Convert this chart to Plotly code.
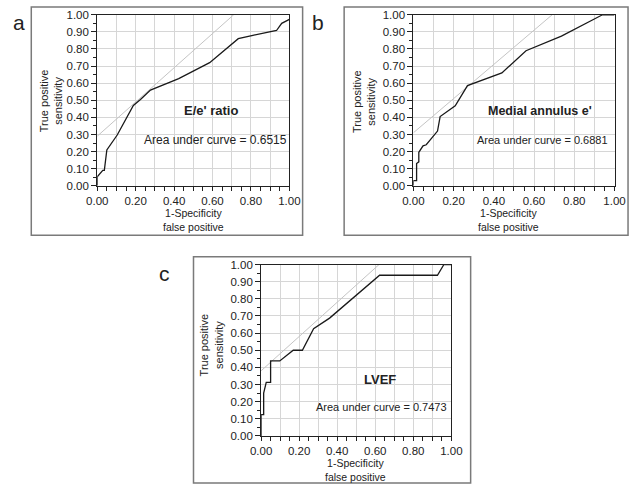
import plotly.graph_objects as go

W, H = 640, 492

# ---- data ----
a_fpr = [0.0, 0.0, 0.029, 0.037, 0.05, 0.06, 0.104, 0.188, 0.225, 0.277, 0.424, 0.585, 0.734, 0.81, 0.933, 0.96, 1.0]
a_tpr = [0.0, 0.053, 0.09, 0.09, 0.21, 0.225, 0.297, 0.47, 0.505, 0.56, 0.627, 0.72, 0.86, 0.88, 0.908, 0.95, 0.973]

b_fpr = [0.0, 0.0, 0.016, 0.016, 0.027, 0.027, 0.048, 0.064, 0.12, 0.133, 0.208, 0.269, 0.44, 0.56, 0.736, 0.94, 1.0]
b_tpr = [0.0, 0.03, 0.03, 0.13, 0.14, 0.196, 0.234, 0.24, 0.32, 0.405, 0.468, 0.586, 0.66, 0.79, 0.875, 1.0, 1.0]

c_fpr = [0.0, 0.0, 0.0135, 0.0135, 0.027, 0.05, 0.05, 0.098, 0.169, 0.217, 0.276, 0.36, 0.623, 0.927, 0.961, 1.0]
c_tpr = [0.0, 0.125, 0.125, 0.25, 0.3125, 0.3125, 0.4375, 0.4375, 0.5, 0.5, 0.625, 0.6875, 0.9375, 0.9375, 1.0, 1.0]

diag_intercepts = [0.29, 0.31, 0.38]

panel_letters = ["a", "b", "c"]
marker_names = ["E/e' ratio", "Medial annulus e'", "LVEF"]
auc_labels = ["Area under curve = 0.6515", "Area under curve = 0.6881", "Area under curve = 0.7473"]
x_title = "1-Specificity<br>false positive"
y_title = "True positive<br>sensitivity"

x_tickvals = [i * 0.05 for i in range(21)]
x_ticktext = ["0.00" if i == 0 else ("%.2f" % (i * 0.05) if i % 4 == 0 else "") for i in range(21)]
y_tickvals = [i * 0.1 for i in range(11)]
y_ticktext = ["%.2f" % v for v in y_tickvals]

# ---- layout helpers ----
def px(x):
    return x / W

def py(y):
    return 1 - y / H

# plot areas in pixels: (x0, x1, ytop, ybottom)
areas = [(89.3, 288.3, 9, 184.3), (416.7, 625, 9, 184.3), (259, 456, 265, 440.7)]
boxes = [(21, 302, 1, 235), (345, 639, 1, 235), (189, 476, 257, 489)]

FONT = "Liberation Sans, Arial, sans-serif"

fig = go.Figure()
curves = [(a_fpr, a_tpr), (b_fpr, b_tpr), (c_fpr, c_tpr)]

layout = dict(
    width=W, height=H, margin=dict(l=0, r=0, t=0, b=0), autosize=False,
    paper_bgcolor="white", plot_bgcolor="white", showlegend=False,
    font=dict(family=FONT, color="#222"),
)

for i, ((fx, ty), b0) in enumerate(zip(curves, diag_intercepts)):
    xa = "x" if i == 0 else "x%d" % (i + 1)
    ya = "y" if i == 0 else "y%d" % (i + 1)
    fig.add_trace(go.Scatter(x=[0, 1 - b0], y=[b0, 1.0], mode="lines",
                             line=dict(color="#c4c4c4", width=1), xaxis=xa, yaxis=ya,
                             hoverinfo="skip"))
    fig.add_trace(go.Scatter(x=fx, y=ty, mode="lines",
                             line=dict(color="#1a1a1a", width=1.3), xaxis=xa, yaxis=ya))
    x0, x1, yt, yb = areas[i]
    xkey = "xaxis" if i == 0 else "xaxis%d" % (i + 1)
    ykey = "yaxis" if i == 0 else "yaxis%d" % (i + 1)
    layout[xkey] = dict(
        domain=[px(x0), px(x1)], range=[0, 1], anchor=ya,
        tickmode="array", tickvals=x_tickvals, ticktext=x_ticktext,
        ticks="outside", ticklen=4, tickcolor="#222", tickwidth=1,
        showgrid=False, zeroline=False,
        minor=dict(dtick=0.1, tick0=0, showgrid=True, gridcolor="#d6d6d6", gridwidth=1, ticks=""),
        showline=True, linecolor="#222", linewidth=1, mirror=True,
        tickfont=dict(size=11.5, family=FONT, color="#222"),
    )
    layout[ykey] = dict(
        domain=[py(yb), py(yt)], range=[0, 1], anchor=xa,
        tickmode="array", tickvals=y_tickvals, ticktext=y_ticktext,
        ticks="outside", ticklen=5, tickcolor="#222", tickwidth=1,
        showgrid=True, gridcolor="#d6d6d6", gridwidth=1, zeroline=False,
        minor=dict(dtick=0.05, tick0=0, ticks="outside", ticklen=3, tickcolor="#222", showgrid=False),
        showline=True, linecolor="#222", linewidth=1, mirror=True,
        tickfont=dict(size=11.5, family=FONT, color="#222"),
    )

fig.update_layout(**layout)

shapes = []
for (bx0, bx1, by0, by1) in boxes:
    shapes.append(dict(type="rect", xref="paper", yref="paper",
                       x0=px(bx0), x1=px(bx1), y0=py(by1), y1=py(by0),
                       line=dict(color="#7a7a7a", width=1.5), fillcolor="rgba(0,0,0,0)", layer="below"))

ann = []
def text(x, y, s, size, bold=False, angle=0):
    ann.append(dict(x=px(x), y=py(y), xref="paper", yref="paper", text=("<b>%s</b>" % s) if bold else s,
                    showarrow=False, xanchor="center", yanchor="middle", textangle=angle,
                    font=dict(size=size, family=FONT, color="#222")))

# panel letters
letter_pos = [(8, 17), (318, 17), (159, 274)]
for (lx, ly), s in zip(letter_pos, panel_letters):
    text(lx, ly, s, 21)

# marker names and AUC
name_pos = [(207, 107, 13), (548, 108, 12.5), (382, 383, 13)]
auc_pos = [(212, 137, 12), (550, 137, 11), (384, 411, 11)]
for (nx, ny, ns), s in zip(name_pos, marker_names):
    text(nx, ny, s, ns, bold=True)
for (ax_, ay_, as_), s in zip(auc_pos, auc_labels):
    text(ax_, ay_, s, as_)

# axis titles (two-line)
xt_pos = [(189, 219), (515, 219), (357, 476)]
for (tx, ty_) in xt_pos:
    text(tx, ty_, x_title, 10.5)
yt_pos = [(41, 97), (365, 98), (207, 347)]
for (tx, ty_) in yt_pos:
    text(tx, ty_, y_title, 11, angle=-90)

fig.update_layout(shapes=shapes, annotations=ann)
fig.write_html("out.html", config={"displayModeBar": False},
               post_script="document.body.style.margin='0px';document.body.style.overflow='hidden';")
